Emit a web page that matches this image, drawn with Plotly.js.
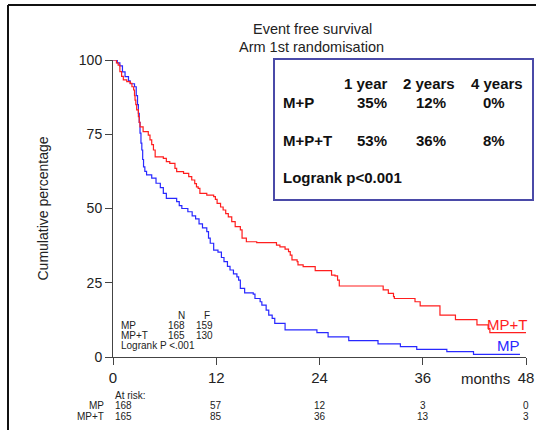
<!DOCTYPE html>
<html><head><meta charset="utf-8">
<script src="https://cdn.plot.ly/plotly-3.0.1.min.js"></script>
<style>html,body{margin:0;padding:0;background:#fff}#chart{width:536px;height:430px}</style>
</head><body><div id="chart"></div>
<script>
// Kaplan-Meier step data (months, survival %)
const mpTimes = [0,0.5,0.8,1.1,1.4,1.8,2.0,2.5,2.7,2.85,2.95,3.05,3.14,3.25,3.35,3.45,3.55,3.7,3.9,4.5,5.0,5.5,5.85,6.2,7.4,7.7,8.0,8.7,9.2,9.6,10.0,10.4,10.9,11.1,11.3,11.7,12.2,12.6,12.9,13.3,13.6,14.0,14.4,14.6,14.8,15.3,16.3,16.5,17.1,17.3,17.8,18.1,18.5,18.8,20.0,23.7,25.0,27.4,30.8,33.4,35.3,38.8,41.9,47.3];
const mpSurv  = [100,99,98,96,94.4,93,92,91,88,85,82,79,75.4,72,69.7,66.5,64,62.5,61.3,60.2,58.5,57,55.1,53.4,52.3,51,50,48.9,47.5,46.5,44.8,43.5,42.2,40,38.3,36,35.3,33.5,32.1,30.5,29.3,28,27,25.9,23.1,21.6,21.2,19.7,18.6,17.5,15.8,14.1,13.0,11.3,9.1,8.2,6.8,5.5,4.4,3.5,2.6,1.8,0.9,0.9];
const mptTimes = [0,0.4,0.6,0.8,1.0,1.2,1.6,2.0,2.2,2.4,2.5,2.56,2.65,2.75,2.95,3.05,3.14,3.5,4.1,4.3,4.5,4.7,4.9,5.85,6.2,6.6,7.2,7.4,8.2,8.8,9.15,9.5,9.7,9.9,10.1,10.9,11.7,11.9,12.1,12.5,12.8,13.1,13.4,13.8,14.2,14.8,15.0,15.5,16.7,19.0,19.4,20.0,20.4,20.6,20.8,21.4,21.5,22.1,23.5,25.4,25.8,26.1,26.3,31.4,32.0,32.6,32.7,35.1,35.7,38.0,39.8,42.3,43.6,43.8,48];
const mptSurv  = [100,99,98.3,96.1,94.5,93.3,92.7,92.1,91,89.9,88,86.5,85,83.2,80.9,79,77.5,75.9,74.7,73.1,71.5,69.7,67.4,66.9,65.8,65.2,63.5,62.4,61.8,60.7,59.6,58.4,57.3,56.8,55.1,54.5,54.0,53.1,51.7,50.5,49.5,48.3,47.2,45.6,43.9,42.8,40.0,38.8,38.5,37.7,37.1,36.3,35.5,34.3,32.7,32.1,31.0,30.4,29.1,27.6,27.3,25.9,23.9,22.6,21.4,20.3,19.7,18.6,17.2,14.1,12.6,10.8,9.6,8.2,8.2];

const xTicks = [0,12,24,36,48];
const yTicks = [0,25,50,75,100];
const atRiskMP  = [168,57,12,3,0];
const atRiskMPT = [165,85,36,13,3];
const groups = ["MP","MP+T"];
const groupN = [168,165];
const groupF = [159,130];
const boxCols = ["1 year","2 years","4 years"];
const boxRows = ["M+P","M+P+T"];
const boxMP  = ["35%","12%","0%"];
const boxMPT = ["53%","36%","8%"];

// pixel -> paper helpers (plot area: x 113..526, y 60..357)
const L=113, R=526, T=60, B=357;
const px = x => (x-L)/(R-L);
const py = y => (B-y)/(B-T);

const RED='rgb(255,30,30)', BLUE='rgb(40,40,255)';
const font = 'Arial, "Liberation Sans", sans-serif';

const traces = [
  {x: mpTimes, y: mpSurv, mode:'lines', line:{shape:'hv', color:BLUE, width:1.2}, hoverinfo:'skip', cliponaxis:false},
  {x: mptTimes, y: mptSurv, mode:'lines', line:{shape:'hv', color:RED, width:1.2}, hoverinfo:'skip', cliponaxis:false}
];

const ann = [];
const A = (o) => ann.push(Object.assign({showarrow:false, font:{family:font, size:10, color:'#222'}}, o));

// title
A({text:'Event free survival', xref:'paper', yref:'paper', x:px(312), y:py(29), xanchor:'center', yanchor:'middle', font:{family:font,size:14.5,color:'#222'}});
A({text:'Arm 1st randomisation', xref:'paper', yref:'paper', x:px(311), y:py(47), xanchor:'center', yanchor:'middle', font:{family:font,size:14.5,color:'#222'}});

// box contents
const bf = {family:font, size:15, color:'#111', weight:'bold'};
const colX = [366, 429, 497];
const valX = [372, 431, 494];
boxCols.forEach((c,i)=>A({text:'<b>'+c+'</b>', xref:'paper', yref:'paper', x:px(colX[i]), y:py(83), xanchor:'center', yanchor:'middle', font:bf}));
A({text:'<b>'+boxRows[0]+'</b>', xref:'paper', yref:'paper', x:px(281), y:py(102), xanchor:'left', yanchor:'middle', font:bf});
A({text:'<b>'+boxRows[1]+'</b>', xref:'paper', yref:'paper', x:px(281), y:py(140), xanchor:'left', yanchor:'middle', font:bf});
boxMP.forEach((v,i)=>A({text:'<b>'+v+'</b>', xref:'paper', yref:'paper', x:px(valX[i]), y:py(102), xanchor:'center', yanchor:'middle', font:bf}));
boxMPT.forEach((v,i)=>A({text:'<b>'+v+'</b>', xref:'paper', yref:'paper', x:px(valX[i]), y:py(140), xanchor:'center', yanchor:'middle', font:bf}));
A({text:'<b>Logrank p<0.001</b>', xref:'paper', yref:'paper', x:px(281), y:py(177), xanchor:'left', yanchor:'middle', font:bf});

// small N/F table
A({text:'N', xref:'paper', yref:'paper', x:px(181), y:py(315), xanchor:'center', yanchor:'middle'});
A({text:'F', xref:'paper', yref:'paper', x:px(207), y:py(315), xanchor:'center', yanchor:'middle'});
groups.forEach((g,i)=>{
  const yy = 325 + i*10;
  A({text:g, xref:'paper', yref:'paper', x:px(119), y:py(yy), xanchor:'left', yanchor:'middle'});
  A({text:String(groupN[i]), xref:'paper', yref:'paper', x:px(176), y:py(yy), xanchor:'center', yanchor:'middle'});
  A({text:String(groupF[i]), xref:'paper', yref:'paper', x:px(204), y:py(yy), xanchor:'center', yanchor:'middle'});
});
A({text:'Logrank P <.001', xref:'paper', yref:'paper', x:px(119), y:py(345), xanchor:'left', yanchor:'middle'});

// curve labels
A({text:'MP+T', xref:'paper', yref:'paper', x:px(507), y:py(324), xanchor:'center', yanchor:'middle', font:{family:font,size:15,color:RED}});
A({text:'MP', xref:'paper', yref:'paper', x:px(508), y:py(345), xanchor:'center', yanchor:'middle', font:{family:font,size:15,color:BLUE}});

// months label
A({text:'months', xref:'paper', yref:'paper', x:px(485), y:py(378), xanchor:'center', yanchor:'middle', font:{family:font,size:15,color:'#222'}});

// at risk table
A({text:'At risk:', xref:'paper', yref:'paper', x:px(113), y:py(395), xanchor:'left', yanchor:'middle'});
A({text:groups[0], xref:'paper', yref:'paper', x:px(106), y:py(405), xanchor:'right', yanchor:'middle'});
A({text:groups[1], xref:'paper', yref:'paper', x:px(106), y:py(416), xanchor:'right', yanchor:'middle'});
xTicks.forEach((t,i)=>{
  const first = i===0;
  A({text:String(atRiskMP[i]), xref:'x', yref:'paper', x:t, y:py(405), xanchor:first?'left':'center', yanchor:'middle'});
  A({text:String(atRiskMPT[i]), xref:'x', yref:'paper', x:t, y:py(416), xanchor:first?'left':'center', yanchor:'middle'});
});

const shapes = [
  // results box
  {type:'rect', xref:'paper', yref:'paper', x0:px(274), x1:px(533), y0:py(59), y1:py(200), line:{color:'#4a4aa8', width:2}, fillcolor:'rgba(0,0,0,0)'},
  // outer frame (left + top)
  {type:'line', xref:'paper', yref:'paper', x0:px(8), x1:px(8), y0:py(5), y1:py(432), line:{color:'#111', width:2}},
  {type:'line', xref:'paper', yref:'paper', x0:px(8), x1:px(540), y0:py(5), y1:py(5), line:{color:'#111', width:2}}
];

const layout = {
  width:536, height:430,
  margin:{l:L, r:536-R, t:T, b:430-B},
  paper_bgcolor:'#fff', plot_bgcolor:'#fff',
  showlegend:false,
  font:{family:font, color:'#222'},
  xaxis:{range:[0,48], tickvals:xTicks, ticktext:xTicks.map(String), ticks:'outside', ticklen:7, tickcolor:'#444',
         showline:true, linecolor:'#444', linewidth:1, showgrid:false, zeroline:false, tickfont:{family:font,size:15,color:'#222'}, fixedrange:true},
  yaxis:{range:[0,100], tickvals:yTicks, ticktext:yTicks.map(String), ticks:'outside', ticklen:7, tickcolor:'#444',
         showline:true, linecolor:'#444', linewidth:1, showgrid:false, zeroline:false, tickfont:{family:font,size:14,color:'#222'},
         title:{text:'Cumulative percentage', font:{family:font,size:14,color:'#222'}, standoff:26}, fixedrange:true},
  annotations: ann,
  shapes: shapes
};

Plotly.newPlot('chart', traces, layout, {displayModeBar:false, staticPlot:true});
</script>
</body></html>
